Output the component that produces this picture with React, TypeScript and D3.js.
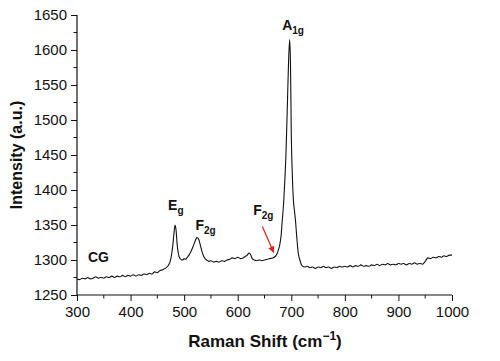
import { useEffect, useRef } from "react"
import * as d3 from "d3"

// Raman spectrum as [shift (cm-1), intensity (a.u.)]
const lowRegion: [number, number][] = [
  [300, 1273], [305, 1272], [310, 1274], [315, 1273], [320, 1275], [325, 1273],
  [330, 1274], [335, 1276], [340, 1274], [345, 1275], [350, 1274], [355, 1276],
  [360, 1275], [365, 1277], [370, 1275], [375, 1277], [380, 1276], [385, 1278],
  [390, 1276], [395, 1278], [400, 1277], [405, 1279], [410, 1277], [415, 1279],
  [420, 1278], [425, 1280], [430, 1279], [435, 1281], [440, 1280], [445, 1283],
  [450, 1282], [455, 1285], [460, 1286],
]

const egF2gRegion: [number, number][] = [
  [462, 1287], [465, 1288], [468, 1290], [471, 1293], [474, 1298], [477, 1310],
  [479, 1322], [481, 1338], [483, 1350], [485, 1342], [487, 1322], [489, 1310],
  [491, 1304], [494, 1301], [497, 1300], [500, 1302], [503, 1301], [506, 1304],
  [509, 1307], [512, 1311], [515, 1316], [518, 1322], [521, 1328], [524, 1332],
  [527, 1330], [530, 1322], [533, 1313], [536, 1306], [539, 1302], [542, 1300],
]

const midRegion: [number, number][] = [
  [546, 1298], [550, 1299], [555, 1297], [560, 1298], [565, 1297], [570, 1299],
  [575, 1298], [580, 1300], [585, 1301], [590, 1303], [595, 1302], [600, 1304],
  [605, 1302], [610, 1303], [614, 1305], [618, 1307], [621, 1310], [624, 1308],
  [627, 1302], [631, 1300], [635, 1299], [640, 1300], [645, 1299], [650, 1300],
  [655, 1301], [660, 1302], [665, 1303],
]

const a1gRegion: [number, number][] = [
  [670, 1305], [674, 1310], [678, 1320], [681, 1335], [683, 1355], [686, 1385],
  [688, 1415], [690, 1450], [691, 1475], [693, 1530], [695, 1585], [697, 1615],
  [698.5, 1580], [700, 1480], [702, 1420], [704, 1385], [706, 1370], [708, 1355],
  [710, 1335], [713, 1310], [716, 1300], [720, 1292],
]

const highRegion: [number, number][] = [
  [725, 1290], [730, 1291], [735, 1289], [740, 1290], [745, 1288], [750, 1290],
  [755, 1289], [760, 1291], [765, 1289], [770, 1290], [775, 1288], [780, 1290],
  [785, 1289], [790, 1291], [795, 1290], [800, 1291], [805, 1290], [810, 1292],
  [815, 1290], [820, 1292], [825, 1291], [830, 1293], [835, 1291], [840, 1292],
  [845, 1291], [850, 1293], [855, 1292], [860, 1294], [865, 1292], [870, 1294],
  [875, 1293], [880, 1295], [885, 1293], [890, 1294], [895, 1293], [900, 1295],
  [905, 1294], [910, 1295], [915, 1293], [920, 1295], [925, 1294], [930, 1296],
  [935, 1294], [940, 1295], [945, 1294], [950, 1298], [955, 1303], [960, 1302],
  [965, 1304], [970, 1303], [975, 1305], [980, 1304], [985, 1306], [990, 1305],
  [995, 1307], [1000, 1307],
]

const xTicks = [300, 400, 500, 600, 700, 800, 900, 1000]
const xMinorTicks = [350, 450, 550, 650, 750, 850, 950]
const yTicks = [1250, 1300, 1350, 1400, 1450, 1500, 1550, 1600, 1650]
const yMinorTicks = [1275, 1325, 1375, 1425, 1475, 1525, 1575, 1625]

// peak labels: [main letter, subscript, shift at label start, intensity at label baseline]
const peakLabels: [string, string, number, number][] = [
  ["E", "g", 470, 1371],
  ["F", "2g", 521, 1343],
  ["F", "2g", 629, 1364],
  ["A", "1g", 683, 1629],
]

export default function App() {
  const svgRef = useRef<SVGSVGElement>(null)

  useEffect(() => {
    if (!svgRef.current) return
    const width = 500
    const height = 361
    const svg = d3.select(svgRef.current).attr("width", width).attr("height", height)
    svg.selectAll("*").remove()

    const font = "'Liberation Sans', Arial, Helvetica, sans-serif"
    const left = 77
    const right = 452
    const top = 15
    const bottom = 295

    const x = d3.scaleLinear().domain([300, 1000]).range([left, right])
    const y = d3.scaleLinear().domain([1250, 1650]).range([bottom, top])

    const data = [...lowRegion, ...egF2gRegion, ...midRegion, ...a1gRegion, ...highRegion]

    const line = d3
      .line<[number, number]>()
      .x((d) => x(d[0]))
      .y((d) => y(d[1]))
      .curve(d3.curveMonotoneX)

    svg
      .append("path")
      .datum(data)
      .attr("d", line)
      .attr("fill", "none")
      .attr("stroke", "#111")
      .attr("stroke-width", 1.1)

    // axes (left + bottom only)
    const xAxis = svg.append("g").attr("transform", `translate(0,${bottom})`)
    xAxis.call(d3.axisBottom(x).tickValues(xTicks).tickSize(6).tickPadding(5).tickFormat(d3.format("d")))
    xAxis
      .append("g")
      .selectAll("line")
      .data(xMinorTicks)
      .enter()
      .append("line")
      .attr("x1", (d) => x(d))
      .attr("x2", (d) => x(d))
      .attr("y1", 0)
      .attr("y2", 3.5)

    const yAxis = svg.append("g").attr("transform", `translate(${left},0)`)
    yAxis.call(d3.axisLeft(y).tickValues(yTicks).tickSize(6).tickPadding(4).tickFormat(d3.format("d")))
    yAxis
      .append("g")
      .selectAll("line")
      .data(yMinorTicks)
      .enter()
      .append("line")
      .attr("x1", 0)
      .attr("x2", -3.5)
      .attr("y1", (d) => y(d))
      .attr("y2", (d) => y(d))

    svg.selectAll(".domain").attr("stroke", "#111").attr("stroke-width", 1.2)
    svg.selectAll("line").attr("stroke", "#111").attr("stroke-width", 1)
    svg
      .selectAll(".tick text")
      .attr("fill", "#111")
      .style("font-family", font)
      .style("font-size", "15px")
    xAxis.selectAll(".domain").attr("d", `M${left},0H${right}`)
    yAxis.selectAll(".domain").attr("d", `M0,${bottom}V${top}`)

    // axis titles
    const xTitle = svg
      .append("text")
      .attr("x", 265)
      .attr("y", 347)
      .attr("text-anchor", "middle")
      .attr("fill", "#111")
      .style("font-family", font)
      .style("font-size", "17px")
      .style("font-weight", "bold")
    xTitle.append("tspan").text("Raman Shift (cm")
    xTitle.append("tspan").attr("dy", -7).style("font-size", "12px").text("\u22121")
    xTitle.append("tspan").attr("dy", 7).text(")")

    svg
      .append("text")
      .attr("transform", `translate(22,155) rotate(-90)`)
      .attr("text-anchor", "middle")
      .attr("fill", "#111")
      .style("font-family", font)
      .style("font-size", "16px")
      .style("font-weight", "bold")
      .text("Intensity (a.u.)")

    // sample label
    svg
      .append("text")
      .attr("x", 88)
      .attr("y", 262)
      .attr("fill", "#111")
      .style("font-family", font)
      .style("font-size", "14px")
      .style("font-weight", "bold")
      .text("CG")

    // peak labels
    peakLabels.forEach(([main, sub, sx, sy]) => {
      const t = svg
        .append("text")
        .attr("x", x(sx))
        .attr("y", y(sy))
        .attr("fill", "#111")
        .style("font-family", font)
        .style("font-size", "14px")
        .style("font-weight", "bold")
      t.append("tspan").text(main)
      t.append("tspan").attr("dy", 4).style("font-size", "10px").text(sub)
    })

    // red arrow pointing at the shoulder F2g
    const defs = svg.append("defs")
    defs
      .append("marker")
      .attr("id", "redArrow")
      .attr("viewBox", "0 0 10 10")
      .attr("refX", 9)
      .attr("refY", 5)
      .attr("markerWidth", 5)
      .attr("markerHeight", 5)
      .attr("orient", "auto")
      .append("path")
      .attr("d", "M0,0L10,5L0,10z")
      .attr("fill", "#e0241b")

    svg
      .append("line")
      .attr("x1", x(646))
      .attr("y1", y(1348))
      .attr("x2", x(667))
      .attr("y2", y(1311))
      .attr("stroke", "#e0241b")
      .attr("stroke-width", 1.3)
      .attr("marker-end", "url(#redArrow)")
  }, [])

  return (
    <div style={{ position: "absolute", left: 0, top: 0, background: "#fff" }}>
      <svg ref={svgRef} />
    </div>
  )
}
